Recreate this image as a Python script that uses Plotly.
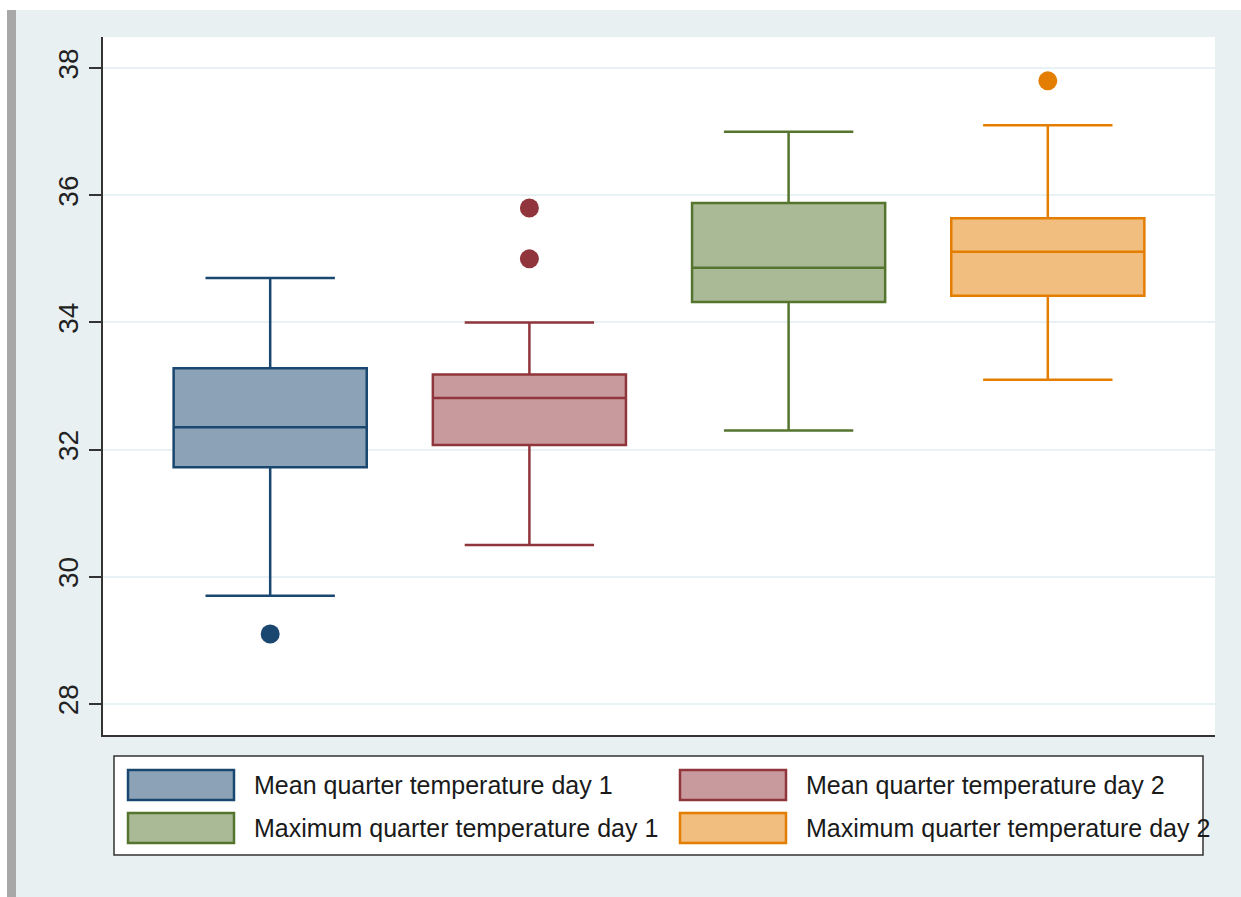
import plotly.graph_objects as go

# ---- data ----
names = ["Mean quarter temperature day 1", "Mean quarter temperature day 2",
         "Maximum quarter temperature day 1", "Maximum quarter temperature day 2"]
positions = [0, 1, 2, 3]
lower_fence = [29.70, 30.50, 32.30, 33.10]
q1_vals = [31.72, 32.07, 34.32, 34.42]
medians = [32.35, 32.81, 34.86, 35.11]
q3_vals = [33.28, 33.18, 35.88, 35.64]
upper_fence = [34.70, 34.00, 37.00, 37.10]
outliers = [[29.10], [35.00, 35.80], [], [37.80]]
y_ticks = [28, 30, 32, 34, 36, 38]

line_colors = ["#1a476f", "#90353b", "#55752f", "#e37e00"]
fill_colors = ["#8ca3b7", "#c89a9d", "#aaba97", "#f1be7f"]

W, H = 1241, 897
L, R, T, B = 103, 26, 37, 162
PW, PH = W - L - R, H - T - B


def px_x(p):
    return (p - L) / PW


def px_y(p):
    return (H - B - p) / PH


fig = go.Figure()
for i in range(4):
    fig.add_trace(go.Box(
        x=[positions[i]], q1=[q1_vals[i]], median=[medians[i]], q3=[q3_vals[i]],
        lowerfence=[lower_fence[i]], upperfence=[upper_fence[i]],
        name=names[i], fillcolor=fill_colors[i],
        line=dict(color=line_colors[i], width=2.5),
        width=0.745, whiskerwidth=0.67, boxpoints=False, showlegend=False,
    ))
    if outliers[i]:
        fig.add_trace(go.Scatter(
            x=[positions[i]] * len(outliers[i]), y=outliers[i], mode="markers",
            marker=dict(color=line_colors[i], size=19, line=dict(width=0)),
            showlegend=False, name=names[i],
        ))

axis_col = "#333333"
fig.update_xaxes(range=[-0.645, 3.645], showticklabels=False, showgrid=False,
                 zeroline=False, showline=True, linecolor=axis_col, linewidth=2,
                 ticks="")
fig.update_yaxes(range=[27.51, 38.49], tickvals=y_ticks, tickangle=-90,
                 tickfont=dict(family="Arial, Liberation Sans", size=28, color="#222222"),
                 ticks="outside", ticklen=12, tickwidth=2, tickcolor=axis_col,
                 showline=True, linecolor=axis_col, linewidth=2,
                 showgrid=True, gridcolor="#e8f1f3", gridwidth=2, zeroline=False)

shapes = [
    dict(type="rect", xref="paper", yref="paper", x0=px_x(0), x1=px_x(W), y0=px_y(10), y1=px_y(0),
         fillcolor="white", line=dict(width=0), layer="below"),
    dict(type="rect", xref="paper", yref="paper", x0=px_x(0), x1=px_x(7), y0=px_y(H), y1=px_y(0),
         fillcolor="white", line=dict(width=0), layer="below"),
    dict(type="rect", xref="paper", yref="paper", x0=px_x(7), x1=px_x(16), y0=px_y(H), y1=px_y(10),
         fillcolor="#a8a8a8", line=dict(width=0), layer="below"),
    # legend frame
    dict(type="rect", xref="paper", yref="paper", x0=px_x(114), x1=px_x(1203), y0=px_y(855), y1=px_y(756),
         fillcolor="white", line=dict(color="#333333", width=1.5)),
]
annotations = []
col_sw = [128, 680]
col_tx = [252, 804]
row_y = [785, 828]
order = [(0, 0), (1, 0), (0, 1), (1, 1)]  # (col, row) for each series
for i, (c, r) in enumerate(order):
    shapes.append(dict(type="rect", xref="paper", yref="paper",
                       x0=px_x(col_sw[c]), x1=px_x(col_sw[c] + 106),
                       y0=px_y(row_y[r] + 15), y1=px_y(row_y[r] - 15),
                       fillcolor=fill_colors[i], line=dict(color=line_colors[i], width=2.5)))
    annotations.append(dict(xref="paper", yref="paper", x=px_x(col_tx[c]), y=px_y(row_y[r]),
                            text=names[i], showarrow=False, xanchor="left", yanchor="middle",
                            font=dict(family="Arial, Liberation Sans", size=25, color="#1a1a1a")))

fig.update_layout(
    width=W, height=H, margin=dict(l=L, r=R, t=T, b=B),
    paper_bgcolor="#e9f0f2", plot_bgcolor="white",
    shapes=shapes, annotations=annotations, showlegend=False,
)
fig.write_html("out.html")
